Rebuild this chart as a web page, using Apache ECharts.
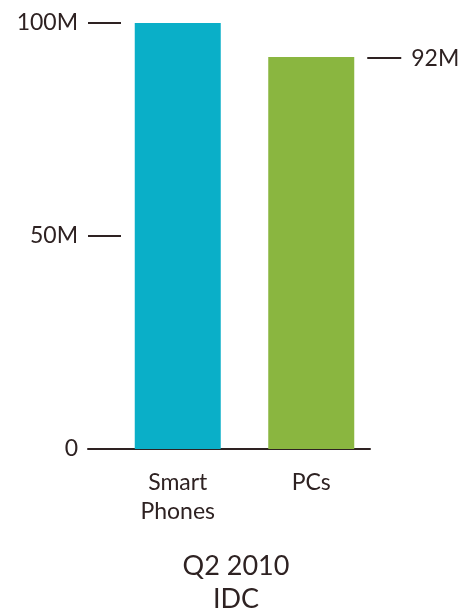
<!DOCTYPE html>
<html>
<head>
<meta charset="utf-8">
<script src="https://cdn.jsdelivr.net/npm/echarts@6/dist/echarts.min.js"></script>
<style>html,body{margin:0;padding:0;background:#fff}#c{width:472px;height:610px}</style>
</head>
<body>
<div id="c"></div>
<script>
const categories = ['Smart\nPhones', 'PCs'];
const shipments = [100, 92];           // millions
const barColors = ['#0aafc8', '#8ab640'];
const labelledIndex = [1];             // bars with a value callout
const yTicks = [0, 50, 100];
const titleLines = ['Q2 2010', 'IDC'];

const ink = '#2e2222';
const font = 'Lato';
const chart = echarts.init(document.getElementById('c'), null, {renderer: 'canvas'});
chart.setOption({
  animation: false,
  backgroundColor: '#fff',
  title: {
    text: titleLines.join('\n'),
    left: 'center', top: 545,
    textStyle: {color: ink, fontFamily: font, fontWeight: 'normal', fontSize: 27, lineHeight: 33}
  },
  grid: [
    {left: 88, right: 102, top: 23, bottom: 161},
    {left: 111, right: 94, top: 23, bottom: 161}
  ],
  xAxis: [
    {gridIndex: 0, type: 'category', data: categories,
     axisLine: {lineStyle: {color: ink, width: 2}}, axisTick: {show: false}, axisLabel: {show: false}},
    {gridIndex: 1, type: 'category', data: categories,
     axisLine: {show: false}, axisTick: {show: false},
     axisLabel: {color: ink, fontFamily: font, fontSize: 23, lineHeight: 29, margin: 19}}
  ],
  yAxis: [
    {gridIndex: 0, type: 'value', min: yTicks[0], max: yTicks[yTicks.length - 1], interval: yTicks[1] - yTicks[0],
     axisLine: {show: false},
     axisTick: {show: true, inside: true, length: 33, lineStyle: {color: ink, width: 2}},
     splitLine: {show: false},
     axisLabel: {color: ink, fontFamily: font, fontSize: 23, margin: 10,
       formatter: v => v === 0 ? '0' : v + 'M'}},
    {gridIndex: 1, type: 'value', min: yTicks[0], max: yTicks[yTicks.length - 1], show: false}
  ],
  series: [{
    type: 'bar', xAxisIndex: 1, yAxisIndex: 1,
    barWidth: 86,
    data: shipments.map((v, i) => ({
      value: v,
      itemStyle: {color: barColors[i]},
      label: {
        show: labelledIndex.includes(i),
        position: ['100%', 0], offset: [13, 1],
        align: 'left', verticalAlign: 'middle',
        formatter: p => '{l|}{v|' + p.value + 'M}',
        rich: {
          l: {width: 34, height: 2, backgroundColor: ink},
          v: {color: ink, fontFamily: font, fontSize: 23, padding: [0, 0, 0, 10]}
        }
      }
    }))
  }]
});
</script>
</body>
</html>
